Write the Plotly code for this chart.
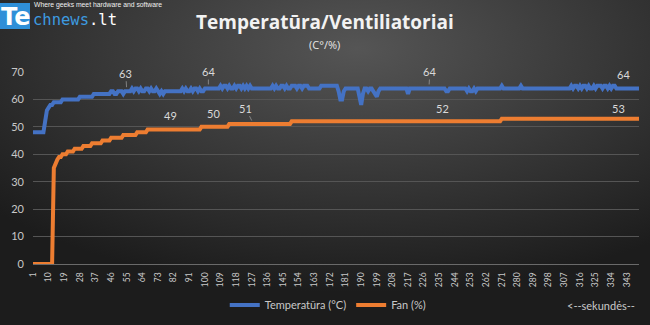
import base64
import plotly.graph_objects as go

# ---- data ----
seconds = list(range(1, 351))
tick_labels = list(range(1, 351, 9))

# run-length pairs (value, how many consecutive seconds)
temp_runs = [
    (48, 7), (52, 1), (56, 1), (57, 1), (58, 2), (59, 5), (60, 10), (61, 8), (62, 10),
    (63, 2), (62, 2), (63, 3), (62, 1), (63, 4),
    (64, 1), (63, 1), (64, 2), (63, 1), (64, 1), (63, 2), (64, 2), (63, 1), (64, 1), (63, 2),
    (64, 1), (63, 1), (62, 1), (63, 1),
    (62, 1), (63, 10),
    (64, 1), (63, 1), (64, 1), (63, 2), (64, 1), (63, 1), (64, 2), (63, 1), (64, 1), (63, 2),
    (64, 9),
    (65, 1), (64, 1), (65, 2), (64, 1), (65, 1), (64, 2), (65, 1), (64, 1), (65, 2), (64, 1),
    (65, 1), (64, 1), (65, 1), (64, 1), (65, 1),
    (64, 12),
    (65, 1), (64, 1), (65, 1), (64, 2), (65, 2), (64, 1), (65, 1), (64, 2), (65, 3), (64, 1),
    (65, 2), (64, 1), (65, 3), (64, 1),
    (64, 6), (65, 10),
    (63, 1), (60, 2), (63, 1),
    (64, 8),
    (61, 1), (58, 1), (62, 1),
    (64, 2), (63, 1), (64, 2),
    (63, 1), (62, 1), (61, 1), (63, 1), (64, 1),
    (64, 15), (62, 1), (64, 21), (63, 2), (64, 10),
    (63, 1), (64, 1), (63, 2), (64, 1), (63, 1), (64, 1),
    (64, 13), (65, 1), (64, 10), (65, 1), (64, 28),
    (65, 1), (64, 1), (65, 2), (64, 1), (65, 1), (64, 1), (65, 2), (64, 1), (65, 1), (64, 2),
    (65, 1), (64, 1), (65, 3), (64, 1), (65, 2), (64, 1), (65, 1), (64, 1), (65, 2), (64, 1),
    (64, 13),
]
fan_runs = [
    (0, 12), (35, 1), (37, 1), (38, 1), (39, 2), (40, 3), (41, 4), (42, 5), (43, 5), (44, 6),
    (45, 5), (46, 7), (47, 8), (48, 6), (49, 31), (50, 16), (51, 36), (52, 121), (53, 80),
]

# labelled points (second)
temp_label_at = [55, 102, 229, 340]
fan_label_at = [80, 105, 128, 236, 338]


def expand(runs):
    out = []
    for v, n in runs:
        out.extend([v] * n)
    return out


temperature = expand(temp_runs)
fan = expand(fan_runs)

BLUE = "#4472C4"
ORANGE = "#ED7D31"
TXT = "#c8c8c8"

fig = go.Figure()
fig.add_trace(go.Scatter(x=seconds, y=temperature, mode="lines", name="Temperatūra (°C)",
                         line=dict(color=BLUE, width=4)))
fig.add_trace(go.Scatter(x=seconds, y=fan, mode="lines", name="Fan (%)",
                         line=dict(color=ORANGE, width=4)))

# data labels
temp_offsets = [(-1, -18, True), (0, -17, True), (1, -17, True), (2, -14, False)]
fan_offsets = [(0, -14, False), (0, -13, False), (-8, -16, True), (1, -13, False), (0, -10, False)]
annotations = []
for s, (ax, ay, lead) in zip(temp_label_at, temp_offsets):
    annotations.append(dict(x=s, y=temperature[s - 1], text=str(temperature[s - 1]), showarrow=True,
                            ax=ax, ay=ay, arrowhead=0, arrowwidth=0.7, standoff=4,
                            arrowcolor="#a0a0a0" if lead else "rgba(0,0,0,0)",
                            font=dict(size=11, color="#d9d9d9", family="Lato")))
for s, (ax, ay, lead) in zip(fan_label_at, fan_offsets):
    annotations.append(dict(x=s, y=fan[s - 1], text=str(fan[s - 1]), showarrow=True,
                            ax=ax, ay=ay, arrowhead=0, arrowwidth=0.7, standoff=4,
                            arrowcolor="#a0a0a0" if lead else "rgba(0,0,0,0)",
                            font=dict(size=11, color="#d9d9d9", family="Lato")))

L, R, T, B = 33, 11, 72, 61
W, H = 650, 325
PW, PH = W - L - R, H - T - B


def px(xp):
    return (xp - L) / PW


def py(yp):
    return (H - B - yp) / PH


def note(xp, yp, text, xanchor="center", **font):
    return dict(xref="paper", yref="paper", x=px(xp), y=py(yp), xanchor=xanchor, yanchor="middle",
                text=text, showarrow=False, font=font)


# title & subtitle
annotations.append(note(325, 22, "<b>Temperatūra/Ventiliatoriai</b>", size=19, color="#f2f2f2", family="Open Sans"))
annotations.append(note(324, 44, "(C°/%)", size=11, color="#e6e6e6", family="Open Sans"))
# x-axis unit note
annotations.append(note(637, 305, "<--sekundės--", xanchor="right", size=11, color=TXT, family="Lato"))
# logo
annotations.append(note(15, 17, "<b>Te</b>", size=24, color="#ffffff", family="DejaVu Sans"))
annotations.append(note(31, 20, "<span style='color:#3d9be0'>chnews</span><span style='color:#ffffff'>.lt</span>",
                        xanchor="left", size=15.5, family="DejaVu Sans Mono"))
annotations.append(note(32, 5, "Where geeks meet hardware and software", xanchor="left",
                        size=6.8, color="#f0f0f0", family="Liberation Sans Narrow, Liberation Sans"))

shapes = [dict(type="rect", xref="paper", yref="paper", x0=px(0), x1=px(30), y0=py(29), y1=py(3),
               fillcolor="#2f8fd8", line=dict(width=0), layer="below")]

svg = ('<svg xmlns="http://www.w3.org/2000/svg" width="650" height="325">'
       '<defs><radialGradient id="g" cx="0.55" cy="0.15" r="0.75">'
       '<stop offset="0" stop-color="#555555"/><stop offset="1" stop-color="#1c1c1c"/>'
       '</radialGradient></defs><rect width="650" height="325" fill="url(#g)"/></svg>')
bg = "data:image/svg+xml;base64," + base64.b64encode(svg.encode()).decode()

fig.update_layout(
    width=W, height=H,
    margin=dict(l=L, r=R, t=T, b=B, autoexpand=False),
    paper_bgcolor="#2a2a2a", plot_bgcolor="rgba(0,0,0,0)",
    images=[dict(source=bg, xref="paper", yref="paper", x=px(0), y=py(0), sizex=W / PW, sizey=H / PH,
                 xanchor="left", yanchor="top", sizing="stretch", layer="below")],
    shapes=shapes,
    annotations=annotations,
    showlegend=True,
    legend=dict(orientation="h", xref="container", yref="container", x=0.505, y=1 - 305 / H,
                xanchor="center", yanchor="middle", font=dict(size=11, color=TXT, family="Lato"),
                bgcolor="rgba(0,0,0,0)", itemwidth=30),
    xaxis=dict(range=[1, 350], tickmode="array", tickvals=tick_labels, ticktext=[str(t) for t in tick_labels],
               tickangle=-90, tickfont=dict(size=8.5, color=TXT, family="Lato"), showgrid=False,
               zeroline=False, showline=True, linecolor="#6a6a6a", linewidth=1, ticks="",
               ticklabelstandoff=4, automargin=False),
    yaxis=dict(range=[0, 70], dtick=10, tickfont=dict(size=11, color=TXT, family="Lato"),
               gridcolor="#555555", gridwidth=1, zeroline=False, showline=False, ticks="",
               ticklabelstandoff=8, automargin=False),
)

fig.write_html("out.html")
